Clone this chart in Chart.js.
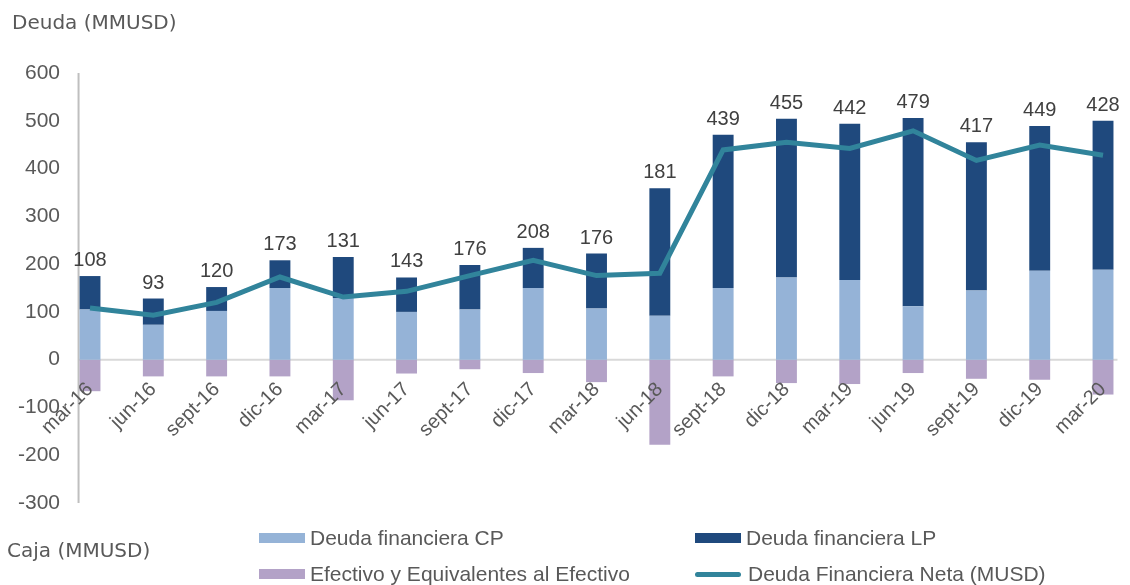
<!DOCTYPE html>
<html>
<head>
<meta charset="utf-8">
<script src="https://cdn.jsdelivr.net/npm/chart.js@4/dist/chart.umd.min.js"></script>
<style>
  html, body { margin: 0; padding: 0; background: #fff; }
  #wrap { position: relative; width: 1130px; height: 585px; }
  canvas { position: absolute; left: 0; top: 0; }
  .title { position: absolute; font-family: 'DejaVu Sans', sans-serif; font-size: 20px; color: #595959; white-space: nowrap; }
  #legend { position: absolute; left: 259px; top: 520px; display: grid; grid-template-columns: 436px 436px; grid-auto-rows: 36px; }
  .item { display: flex; align-items: center; font-family: 'Liberation Sans', Arial, sans-serif; font-size: 21px; color: #595959; white-space: nowrap; }
  .swatch { width: 46px; height: 10px; margin-right: 5px; }
  .swatch.line { height: 5px; border-radius: 3px; margin-right: 7px; }
</style>
</head>
<body>
<div id="wrap">
  <canvas id="chart" width="1130" height="585"></canvas>
  <div class="title" style="left:12px; top:10px;">Deuda (MMUSD)</div>
  <div class="title" style="left:7px; top:538px;">Caja (MMUSD)</div>
  <div id="legend"></div>
</div>
<script>
const labels = ['mar-16', 'jun-16', 'sept-16', 'dic-16', 'mar-17', 'jun-17', 'sept-17', 'dic-17', 'mar-18',
  'jun-18', 'sept-18', 'dic-18', 'mar-19', 'jun-19', 'sept-19', 'dic-19', 'mar-20'];
const deudaCP = [105, 73, 102, 150, 129, 100, 105, 150, 107, 92, 150, 172, 167, 112, 145, 186, 188];
const deudaLP = [70, 55, 50, 58, 86, 72, 93, 84, 115, 267, 321, 332, 327, 394, 310, 303, 312];
const efectivo = [-66, -35, -35, -35, -85, -29, -20, -28, -47, -178, -35, -49, -51, -28, -40, -42, -73];
const deudaNeta = [108, 93, 120, 173, 131, 143, 176, 208, 176, 181, 439, 455, 442, 479, 417, 449, 428];
const yTicks = { min: -300, max: 600, step: 100 };

const FONT = "'Liberation Sans', Arial, sans-serif";

// ejes: linea vertical pegada a la primera barra y linea del cero
const axisLines = {
  id: 'axisLines',
  beforeDatasetsDraw(chart) {
    const { ctx, chartArea, scales } = chart;
    const bars = chart.getDatasetMeta(0).data;
    const first = bars[0], last = bars[bars.length - 1];
    const left = first.x - first.width / 2 - 1;
    const right = last.x + last.width / 2 + 4;
    const y0 = scales.y.getPixelForValue(0);
    ctx.save();
    ctx.lineWidth = 2;
    ctx.strokeStyle = '#d9d9d9';
    ctx.beginPath(); ctx.moveTo(left, y0); ctx.lineTo(right, y0); ctx.stroke();
    ctx.strokeStyle = '#bfbfbf';
    ctx.beginPath(); ctx.moveTo(left, chartArea.top); ctx.lineTo(left, chartArea.bottom); ctx.stroke();
    ctx.restore();
  }
};

// etiquetas de deuda neta sobre cada barra apilada
const netLabels = {
  id: 'netLabels',
  afterDatasetsDraw(chart) {
    const { ctx, scales } = chart;
    const meta = chart.getDatasetMeta(0);
    ctx.save();
    ctx.font = '20px ' + FONT;
    ctx.fillStyle = '#404040';
    ctx.textAlign = 'center';
    ctx.textBaseline = 'alphabetic';
    deudaNeta.forEach((v, i) => {
      const top = scales.y.getPixelForValue(deudaCP[i] + deudaLP[i]);
      ctx.fillText(String(v), meta.data[i].x, top - 10);
    });
    ctx.restore();
  }
};

const chart = new Chart(document.getElementById('chart'), {
  type: 'bar',
  data: {
    labels: labels,
    datasets: [
      { label: 'Deuda financiera CP', data: deudaCP, backgroundColor: '#95b3d7', stack: 'deuda', order: 1 },
      { label: 'Deuda financiera LP', data: deudaLP, backgroundColor: '#1f497d', stack: 'deuda', order: 1 },
      { label: 'Efectivo y Equivalentes al Efectivo', data: efectivo, backgroundColor: '#b3a2c7', stack: 'deuda', order: 1 },
      { type: 'line', label: 'Deuda Financiera Neta (MUSD)', data: deudaNeta, borderColor: '#31849b',
        backgroundColor: '#31849b', borderWidth: 5, pointRadius: 0, tension: 0, stack: 'neta', order: 0 }
    ]
  },
  options: {
    responsive: false,
    animation: false,
    layout: { padding: { top: 73, bottom: 82, left: 0, right: 22 } },
    datasets: { bar: { barPercentage: 0.33, categoryPercentage: 1, clip: false, borderWidth: 0 } },
    plugins: { legend: { display: false }, tooltip: { enabled: false } },
    scales: {
      x: {
        stacked: true,
        offset: false,
        position: { y: 0 },
        grid: { display: false },
        border: { display: false },
        ticks: { z: 1, autoSkip: false, minRotation: 45, maxRotation: 45, padding: 10,
          color: '#595959', font: { family: FONT, size: 20 } }
      },
      y: {
        stacked: true,
        min: yTicks.min,
        max: yTicks.max,
        grid: { display: false, drawTicks: false },
        border: { display: false },
        ticks: { stepSize: yTicks.step, padding: 30, color: '#595959', font: { family: FONT, size: 21 } },
        afterFit(scale) { scale.width = 90; }
      }
    }
  },
  plugins: [axisLines, netLabels]
});

// leyenda en dos columnas
const legend = document.getElementById('legend');
chart.data.datasets.forEach(ds => {
  const item = document.createElement('div');
  item.className = 'item';
  const sw = document.createElement('span');
  sw.className = 'swatch' + (ds.type === 'line' ? ' line' : '');
  sw.style.background = ds.type === 'line' ? ds.borderColor : ds.backgroundColor;
  item.appendChild(sw);
  item.appendChild(document.createTextNode(ds.label));
  legend.appendChild(item);
});
</script>
</body>
</html>
